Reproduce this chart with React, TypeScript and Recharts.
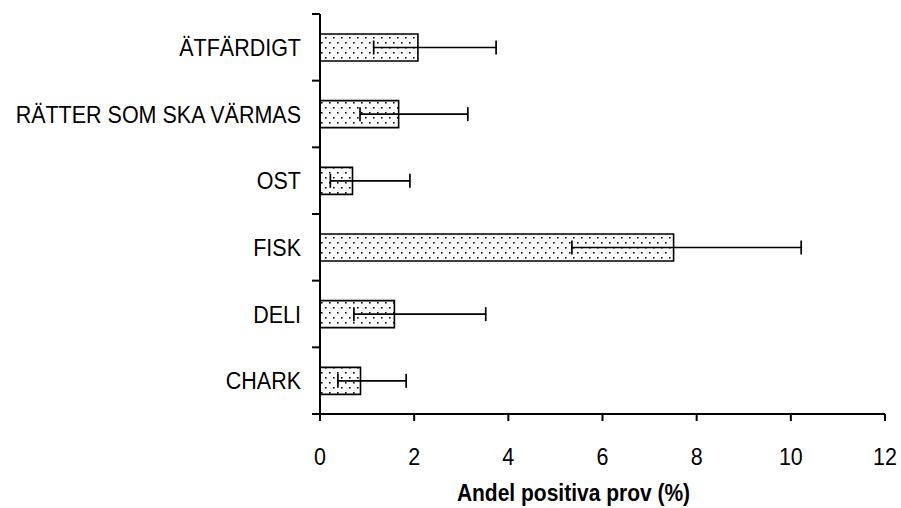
import { BarChart, Bar, XAxis, YAxis, ErrorBar } from 'recharts';

// categories top to bottom
const categories = ['ÄTFÄRDIGT', 'RÄTTER SOM SKA VÄRMAS', 'OST', 'FISK', 'DELI', 'CHARK'];
// share of positive samples (%)
const shares = [2.08, 1.67, 0.69, 7.51, 1.58, 0.86];
// confidence interval bounds (%)
const lower = [1.14, 0.85, 0.22, 5.35, 0.72, 0.38];
const upper = [3.74, 3.14, 1.91, 10.22, 3.52, 1.83];
const xTicks = [0, 2, 4, 6, 8, 10, 12];

const data = categories.map((name, i) => ({
  name,
  share: shares[i],
  err: [shares[i] - lower[i], upper[i] - shares[i]],
}));

const FONT = '"Liberation Sans", Arial, sans-serif';
const AXIS_X = 320;
const BAND = 400 / categories.length;
// the original text is a bit taller than plain Arial
const STRETCH = 1.12;

function CategoryTick(props: any) {
  const { y, payload } = props;
  const index = props.index ?? payload.index ?? 0;
  return (
    <g>
      {index === 0 && (
        <line x1={AXIS_X - 8} x2={AXIS_X} y1={y - BAND / 2} y2={y - BAND / 2} stroke="#000" strokeWidth={2} />
      )}
      <line x1={AXIS_X - 8} x2={AXIS_X} y1={y + BAND / 2} y2={y + BAND / 2} stroke="#000" strokeWidth={2} />
      <text
        transform={`translate(${AXIS_X - 19},${y + 8.6}) scale(1,${STRETCH})`}
        textAnchor="end"
        fontSize={21.5}
        fontFamily={FONT}
        fill="#000"
      >
        {payload.value}
      </text>
    </g>
  );
}

function ValueTick(props: any) {
  const { x, y, payload } = props;
  return (
    <text
      transform={`translate(${x},${y + 17.2}) scale(1,${STRETCH})`}
      textAnchor="middle"
      fontSize={21.5}
      fontFamily={FONT}
      fill="#000"
    >
      {payload.value}
    </text>
  );
}

function AxisTitle(props: any) {
  const vb = props.viewBox || { x: 320, width: 565, y: 414 };
  return (
    <text
      transform={`translate(${vb.x + vb.width / 2 - 29},501) scale(1,${STRETCH})`}
      textAnchor="middle"
      fontSize={21}
      fontWeight="bold"
      fontFamily={FONT}
      fill="#000"
    >
      Andel positiva prov (%)
    </text>
  );
}

export default function App() {
  return (
    <div style={{ position: 'absolute', left: 0, top: 0, width: 901, height: 508, background: '#fff' }}>
      <BarChart
        width={901}
        height={508}
        data={data}
        layout="vertical"
        margin={{ top: 14, right: 16, left: 0, bottom: 0 }}
      >
        <defs>
          <pattern id="dots" width="8" height="10" patternUnits="userSpaceOnUse">
            <rect width="8" height="10" fill="#fff" />
            <rect x="1" y="2" width="1.6" height="1.6" fill="#111" />
            <rect x="5" y="7" width="1.6" height="1.6" fill="#111" />
          </pattern>
        </defs>
        <XAxis
          type="number"
          domain={[0, 12]}
          ticks={xTicks}
          interval={0}
          height={94}
          tickSize={7}
          tickMargin={27}
          axisLine={{ stroke: '#000', strokeWidth: 2 }}
          tickLine={{ stroke: '#000', strokeWidth: 2 }}
          tick={(p: any) => <ValueTick {...p} />}
          label={<AxisTitle />}
        />
        <YAxis
          type="category"
          dataKey="name"
          width={320}
          interval={0}
          tickLine={false}
          axisLine={{ stroke: '#000', strokeWidth: 2 }}
          tick={(p: any) => <CategoryTick {...p} />}
        />
        <Bar
          dataKey="share"
          barSize={27}
          fill="url(#dots)"
          stroke="#000"
          strokeWidth={1.6}
          isAnimationActive={false}
        >
          <ErrorBar dataKey="err" direction="x" width={7} stroke="#000" strokeWidth={1.7} />
        </Bar>
      </BarChart>
    </div>
  );
}
